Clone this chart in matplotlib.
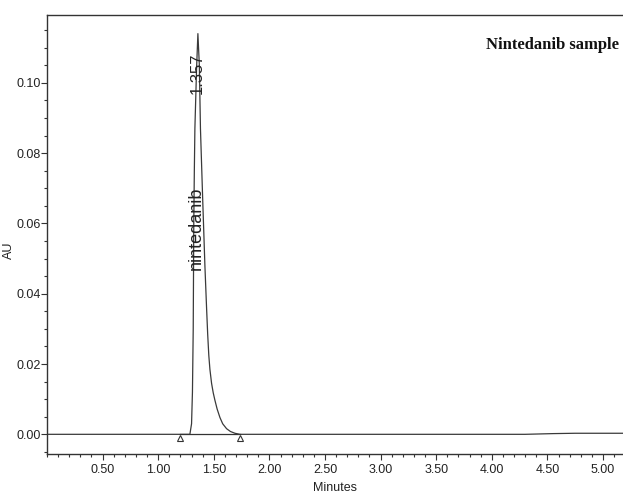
import matplotlib
matplotlib.use("Agg")
import matplotlib.pyplot as plt
from matplotlib.ticker import MultipleLocator, FixedLocator

# ---- data ----
time_min = [0.00, 0.30, 0.60, 0.90, 1.10, 1.20, 1.285, 1.300, 1.308, 1.315, 1.320,
            1.325, 1.330, 1.345, 1.357, 1.370, 1.380, 1.400, 1.420, 1.435, 1.445,
            1.455, 1.465, 1.480, 1.495, 1.510, 1.530, 1.555, 1.580, 1.615, 1.650,
            1.690, 1.735, 2.20, 2.80, 3.40, 3.90, 4.30, 4.55, 4.75, 5.00, 5.18]
au = [0.0000, 0.0000, 0.0000, 0.0000, 0.0000, 0.0000, 0.0000, 0.0030, 0.0120, 0.0300,
      0.0600, 0.0750, 0.0870, 0.1040, 0.1140, 0.1050, 0.0870, 0.0670, 0.0480, 0.0360,
      0.0285, 0.0225, 0.0185, 0.0145, 0.0118, 0.0097, 0.0072, 0.0048, 0.0030, 0.0016,
      0.0008, 0.0003, 0.0000, 0.0000, 0.0000, 0.0000, 0.0000, 0.0000, 0.0002, 0.0003,
      0.0003, 0.0003]

peak_rt = 1.357
peak_name = "nintedanib"
peak_label_rt = "1.357"
baseline_start, baseline_end = 1.195, 1.735
title = "Nintedanib sample"

x_major = [0.50, 1.00, 1.50, 2.00, 2.50, 3.00, 3.50, 4.00, 4.50, 5.00]
y_major = [0.00, 0.02, 0.04, 0.06, 0.08, 0.10]

sans = ["Liberation Sans", "DejaVu Sans"]
plt.rcParams['font.family'] = sans

fig = plt.figure(figsize=(6.23, 4.95), dpi=100)
ax = fig.add_axes([47/623, 41/495, 1 - 47/623, (454 - 15)/495])

ax.plot(time_min, au, color="#3a3a3a", lw=0.9)
# integration baseline and markers
ax.plot([baseline_start, baseline_end], [0, 0], color="#333333", lw=0.9)
ax.plot([baseline_start, baseline_end], [-0.0011, -0.0011], linestyle="none",
        marker="^", markersize=4.5, markerfacecolor="white",
        markeredgecolor="#333333", markeredgewidth=0.8)

ax.set_xlim(0, 5.18)
ax.set_ylim(-0.0056, 0.1193)

ax.xaxis.set_major_locator(FixedLocator(x_major))
ax.xaxis.set_minor_locator(MultipleLocator(0.1))
ax.yaxis.set_major_locator(FixedLocator(y_major))
ax.yaxis.set_minor_locator(MultipleLocator(0.005))
ax.set_xticklabels([f"{v:.2f}" for v in x_major])
ax.set_yticklabels([f"{v:.2f}" for v in y_major])

ax.tick_params(axis="both", which="major", direction="out", length=4.5,
               width=0.8, color="#333333", labelsize=9, labelcolor="#222222")
ax.tick_params(axis="both", which="minor", direction="out", length=2.5,
               width=0.8, color="#333333")
ax.tick_params(axis="y", which="major", pad=0)
ax.tick_params(axis="x", which="major", pad=3)

for s in ["left", "bottom", "top"]:
    ax.spines[s].set_color("#333333")
    ax.spines[s].set_linewidth(1.0)
ax.spines["right"].set_visible(False)

ax.set_xlabel("Minutes", fontsize=9, labelpad=4, color="#222222")
ax.set_ylabel("AU", fontsize=9, color="#222222")
ax.yaxis.set_label_coords((15 - 47) / 576, 0.465)

ax.text(1.347, 0.1027, peak_label_rt, rotation=90, ha="center", va="center",
        fontsize=12, color="#222222")
ax.text(1.347, 0.0587, peak_name, rotation=90, ha="center", va="center",
        fontsize=13, color="#222222")

fig.text(553/623, 1 - 45/495, title, ha="center", va="center", fontsize=12,
         fontweight="bold", family=["Liberation Serif", "DejaVu Serif"], color="#111111")

fig.savefig("out.png", dpi=100)
